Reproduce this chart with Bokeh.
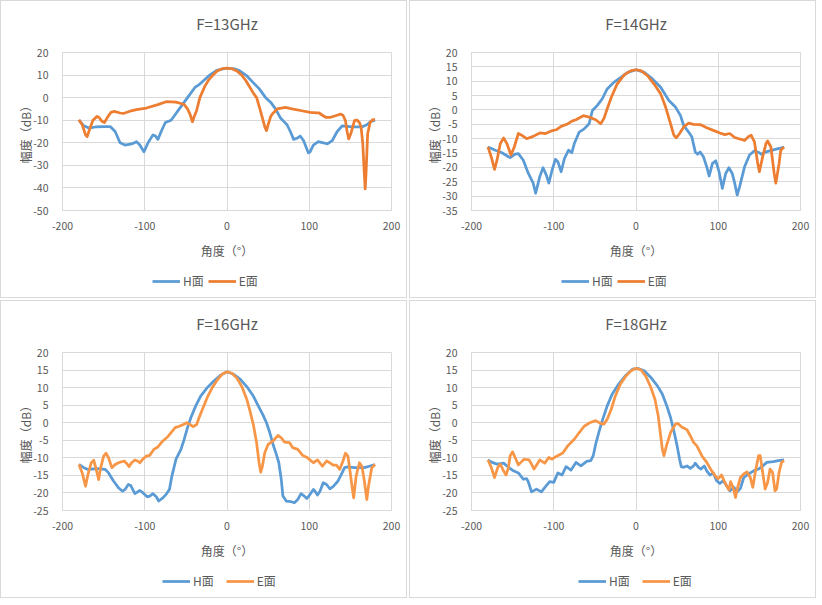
from bokeh.plotting import figure
from bokeh.layouts import column, row
from bokeh.models import Range1d, FixedTicker, Legend, LegendItem
from bokeh.core.properties import value
from bokeh.embed import file_html
from bokeh.resources import INLINE

# ---------------- data (angle in degrees, amplitude in dB) ----------------
titles = ["F=13GHz", "F=14GHz", "F=16GHz", "F=18GHz"]
series_names = ["H面", "E面"]
x_ticks = [-200, -100, 0, 100, 200]
y_ticks_13 = [20, 10, 0, -10, -20, -30, -40, -50]
y_ticks_14 = [20, 15, 10, 5, 0, -5, -10, -15, -20, -25, -30, -35]
y_ticks_16 = [20, 15, 10, 5, 0, -5, -10, -15, -20, -25]
y_ticks_18 = [20, 15, 10, 5, 0, -5, -10, -15, -20, -25]

h13 = [(-180,-10),(-174,-12.5),(-168,-13.5),(-160,-13),(-150,-12.8),(-142,-12.8),(-136,-15),
       (-130,-20),(-124,-21),(-116,-20.5),(-110,-19.5),(-106,-21),(-101,-24),(-96,-20),(-90,-16.5),
       (-87,-17),(-84,-18.5),(-80,-15),(-75,-11),(-68,-10),(-64,-8),(-58,-5),(-52,-2),(-46,1),
       (-39,4.5),(-33,6),(-27,8),(-21,10),(-13,12),(-3,13),(3,13),(9,12.8),(15,12),(23,10),(31,7),
       (39,4),(47,0),(53,-2),(59,-5),(65,-9),(69,-10.5),(73,-12),(77,-15),(81,-18.5),(85,-18),
       (89,-17),(93,-19),(99,-24.5),(101,-24),(105,-21),(111,-19.5),(117,-20),(122,-20.5),(128,-19),
       (134,-15),(140,-12.5),(146,-12.7),(152,-13),(158,-13),(164,-13),(170,-12),(175,-10.5),(180,-10)]
e13 = [(-180,-9.8),(-176,-12),(-172,-16.5),(-170,-17.3),(-167,-14),(-163,-10),(-158,-8.3),(-155,-9),
       (-152,-10.5),(-149,-11),(-145,-8.5),(-141,-6.5),(-137,-6.1),(-130,-6.8),(-126,-7),(-118,-6),
       (-110,-5.3),(-98,-4.6),(-84,-3.1),(-74,-1.8),(-62,-2),(-56,-2.6),(-52,-3.1),(-48,-5),(-45,-7.3),
       (-42,-10.7),(-40,-8.5),(-37,-5.8),(-33,0),(-27,5),(-22,8),(-17,10),(-12,11.8),(-6,12.8),(0,13.1),
       (6,12.8),(12,11.8),(18,10),(23,7.5),(28,4.5),(32,2),(36,0),(40,-5),(43,-9),(46,-13),(48,-14.6),
       (50,-12),(53,-8.5),(55,-7.3),(61,-5),(71,-4.3),(79,-5),(91,-5.8),(101,-6.5),(109,-6.8),(112,-6.8),
       (116,-7.8),(120,-8.7),(126,-8.7),(132,-8),(138,-7.3),(141,-7.8),(144,-10.2),(146,-15),(148,-18.3),
       (151,-15.4),(155,-10.2),(158,-9.9),(161,-11),(163,-13),(165,-20),(167,-34),(168,-40.4),(169,-34),
       (171,-16),(174,-11),(177,-9.8),(180,-9.6)]

h14 = [(-180,-12.9),(-171,-14),(-163,-14.9),(-155,-16.3),(-153,-16.6),(-147,-15.4),(-143,-15.2),
       (-137,-17.5),(-131,-22),(-125,-25.5),(-122,-29),(-117,-23.2),(-113,-20.1),(-109,-22.7),
       (-106,-25.5),(-102,-20.9),(-98,-17.2),(-95,-18),(-91,-21.5),(-87,-16.9),(-82,-14),(-78,-14.9),
       (-75,-11.7),(-69,-7.7),(-63,-6.6),(-57,-4.8),(-53,-0.2),(-47,1.6),(-41,3.9),(-35,7.3),(-27,9.6),
       (-18,11.4),(-10,13.1),(0,14),(10,13.1),(20,10.8),(30,7.9),(40,3.3),(48,1),(54,-1.9),(58,-5.4),
       (64,-7.7),(68,-9.4),(72,-14.6),(75,-15.4),(78,-14.6),(82,-16.3),(86,-19.8),(89,-23),(93,-18.6),
       (97,-17.7),(101,-21.5),(105,-27.3),(109,-22.1),(113,-20.1),(117,-22.1),(120,-25.5),(123,-29.6),
       (126,-26.7),(132,-19.8),(138,-15.7),(144,-14.2),(150,-14.9),(152,-15.4),(158,-14.6),(166,-14),
       (174,-13.4),(180,-12.9)]
e14 = [(-180,-12.9),(-176,-16.3),(-172,-20.7),(-169,-17.5),(-165,-11.7),(-161,-9.7),(-157,-11.7),
       (-152,-15.7),(-148,-12.9),(-143,-8.2),(-139,-8.8),(-133,-10),(-125,-9.2),(-117,-8),(-110,-8.2),
       (-103,-7.3),(-97,-6.9),(-91,-5.7),(-84,-5),(-78,-3.9),(-73,-3.4),(-64,-2),(-57,-2.5),(-49,-3.4),
       (-43,-4.8),(-39,-3),(-35,0.4),(-30,4.4),(-23,9),(-14,12.3),(-6,13.7),(0,14),(6,13.7),(14,11.9),
       (22,9),(30,5.6),(36,1),(42,-4.8),(46,-8.8),(49,-9.7),(53,-8.2),(58,-5.9),(64,-4.6),(70,-5),
       (78,-5.1),(86,-6.2),(94,-7.1),(102,-8),(108,-8.6),(114,-8.2),(120,-9.6),(126,-10.1),(132,-10.6),
       (137,-9.2),(140,-8.8),(144,-11.1),(148,-18.6),(150,-21.5),(154,-16.3),(158,-11.7),(160,-10.8),
       (164,-12.9),(168,-22.1),(170,-25.5),(174,-18.6),(176,-14),(180,-12.9)]

h16 = [(-180,-11.9),(-174,-12.8),(-169,-13.3),(-158,-13.1),(-148,-13.3),(-144,-14.3),(-138,-16.6),
       (-132,-18.5),(-127,-19.5),(-124,-19),(-120,-17.6),(-117,-17.9),(-112,-20.2),(-106,-19.3),
       (-102,-20),(-97,-21.1),(-94,-20.9),(-90,-20.2),(-86,-21.1),(-83,-22.3),(-78,-21.4),(-74,-20.4),
       (-70,-19),(-67,-15.2),(-62,-10.4),(-56,-7.6),(-52,-4.7),(-48,-1.4),(-44,1.4),(-38,4.8),(-32,7.6),
       (-24,10),(-16,11.9),(-8,13.5),(0,14.5),(8,13.8),(16,12.4),(24,10.3),(32,7.6),(38,4.8),(44,2.1),
       (48,0),(52,-2.8),(56,-6.2),(60,-9),(63,-11.4),(66,-16.2),(68,-20.9),(72,-22.3),(78,-22.5),
       (82,-22.8),(86,-21.9),(90,-20.2),(94,-20.9),(97,-21.6),(101,-20.4),(105,-19),(107,-19.5),
       (110,-20.6),(113,-19.5),(117,-17.1),(121,-17.6),(125,-18.8),(129,-18.2),(135,-16.6),(139,-14.7),
       (143,-12.8),(147,-12.6),(155,-12.8),(167,-12.8),(173,-12.4),(180,-11.9)]
e16 = [(-180,-11.9),(-176,-14.3),(-172,-18.1),(-169,-14.7),(-165,-11.4),(-162,-10.7),(-160,-12.4),
       (-156,-16.2),(-154,-13.3),(-150,-9.5),(-147,-8.7),(-144,-10),(-140,-12.8),(-136,-11.9),
       (-132,-11.4),(-125,-10.9),(-122,-11.6),(-119,-12.5),(-116,-11.4),(-112,-10.6),(-109,-10.9),
       (-106,-11.4),(-102,-10.3),(-98,-9.5),(-94,-9.3),(-89,-7.6),(-84,-6.9),(-78,-5.2),(-72,-4),
       (-68,-2.8),(-63,-1.4),(-58,-1),(-53,-0.5),(-49,0),(-45,-0.5),(-41,-1.1),(-37,-0.5),(-34,1.4),
       (-30,3.8),(-24,7.2),(-18,10),(-12,12.1),(-6,13.8),(0,14.5),(6,14.1),(12,12.7),(18,10.3),(24,6.7),
       (28,3.3),(32,-0.5),(36,-5.7),(39,-11.4),(41,-14.1),(43,-12.4),(46,-8.5),(50,-6.2),(56,-5.2),
       (62,-3.6),(66,-4.3),(70,-5.5),(76,-5.7),(80,-7.1),(86,-7.6),(92,-9.3),(98,-10),(105,-11.4),
       (110,-10.6),(116,-12.4),(121,-10.9),(125,-11.4),(129,-12.1),(133,-12.1),(137,-13.3),(141,-10.9),
       (144,-8.7),(147,-9.5),(149,-12.8),(152,-18.1),(154,-21.4),(157,-15.2),(161,-11.4),(164,-12.4),
       (167,-16.6),(170,-21.9),(172,-18.1),(176,-12.8),(180,-11.9)]

h18 = [(-180,-10.6),(-175,-11.3),(-169,-11.8),(-161,-11.5),(-155,-12.7),(-149,-13.7),(-143,-14.3),
       (-137,-16.1),(-133,-15.9),(-131,-16.8),(-127,-19.7),(-121,-18.9),(-115,-19.7),(-111,-18.5),
       (-105,-16.8),(-100,-17),(-95,-14.3),(-90,-14.9),(-85,-12.5),(-79,-13.5),(-73,-11.3),(-67,-12.3),
       (-60,-11),(-55,-10.8),(-52,-9.4),(-49,-6.1),(-45,-2.6),(-41,0.6),(-35,4.8),(-29,8.1),(-21,11),
       (-12,13.6),(-4,15.3),(2,15.5),(10,14.8),(18,12.9),(26,10.5),(32,8.2),(38,4.4),(42,1.5),(46,-2.3),
       (50,-6.6),(53,-10.4),(55,-12.5),(58,-12.7),(62,-12.3),(66,-13),(70,-12.3),(72,-11.5),(76,-12.7),
       (79,-13.2),(83,-12.3),(86,-13.7),(90,-14.9),(94,-14.3),(98,-16.5),(102,-17.3),(106,-16.5),
       (110,-17.9),(114,-19.4),(119,-18.4),(123,-19.7),(127,-18.7),(131,-15.6),(137,-14.6),(143,-13.7),
       (149,-13.2),(153,-12.5),(159,-11.3),(167,-11.1),(173,-10.8),(180,-10.6)]
e18 = [(-180,-10.6),(-176,-12.7),(-172,-15.6),(-168,-12.7),(-165,-11.8),(-161,-13.7),(-158,-14.9),
       (-155,-12.7),(-153,-9.4),(-150,-8.3),(-147,-9.9),(-143,-12),(-140,-11.3),(-136,-10.4),
       (-130,-10.6),(-127,-11.8),(-124,-13.2),(-121,-12.1),(-117,-10.6),(-111,-11.5),(-106,-9.9),
       (-102,-10.4),(-97,-9.6),(-89,-8.6),(-83,-6.6),(-75,-4.7),(-69,-2.8),(-63,-1),(-57,-0.1),(-49,0.6),
       (-44,-0.1),(-39,-0.4),(-35,1),(-30,3.9),(-25,7.7),(-19,11),(-12,13.4),(-6,14.8),(0,15.5),(6,15.1),
       (12,13.2),(18,10.1),(23,6.7),(27,2),(30,-3.7),(32,-7.5),(34,-9.4),(37,-6.6),(42,-2.8),(48,-0.4),
       (51,-0.2),(56,-1.3),(62,-2),(66,-3.7),(70,-5.6),(74,-6.6),(80,-9.4),(86,-11.3),(92,-13.7),
       (98,-15.6),(100,-15.9),(104,-14.9),(107,-16.5),(110,-17.9),(113,-19.1),(115,-16.8),(118,-18.4),
       (121,-21.3),(123,-18.9),(127,-15.6),(131,-14.6),(135,-14),(139,-15.6),(142,-18.4),(145,-14.1),
       (149,-9.4),(151,-9.4),(154,-14.1),(157,-18.9),(160,-17),(163,-13.2),(166,-14.1),(169,-19.4),
       (171,-18.9),(174,-14.1),(177,-11.3),(180,-10.8)]

panels = [
    (titles[0], h13, e13, y_ticks_13, "#ed7d31", 4, 90),
    (titles[1], h14, e14, y_ticks_14, "#ed7d31", 4, 90),
    (titles[2], h16, e16, y_ticks_16, "#f79646", 12, 100),
    (titles[3], h18, e18, y_ticks_18, "#f79646", 12, 107),
]

FONT = "Noto Sans CJK SC"
TXT = "#595959"
GRID = "#d9d9d9"
BLUE = "#5b9bd5"
W = 405


def header(title):
    p = figure(width=W, height=44, output_backend="svg", toolbar_location=None, title=None,
               x_range=Range1d(-200, 200), y_range=Range1d(0, 44),
               x_axis_location=None, y_axis_location=None,
               min_border_left=61, min_border_right=15, min_border_top=0, min_border_bottom=0,
               outline_line_color=None, border_fill_color="white")
    p.grid.grid_line_color = None
    p.text(x=[0], y=[22], text=[title], text_align="center", text_baseline="middle",
           text_font=value(FONT), text_font_size="15px", text_color=TXT)
    return p


def main_plot(h, e, yticks, orange):
    p = figure(width=W, height=217, output_backend="svg", toolbar_location=None, title=None,
               x_range=Range1d(-200, 200), y_range=Range1d(min(yticks), max(yticks)),
               min_border_left=61, min_border_right=15, min_border_top=7, min_border_bottom=52,
               background_fill_color="white", border_fill_color="white",
               outline_line_color=GRID)
    p.xaxis.ticker = FixedTicker(ticks=x_ticks)
    p.yaxis.ticker = FixedTicker(ticks=yticks)
    p.xaxis.major_label_overrides = {t: str(t) for t in x_ticks}
    p.yaxis.major_label_overrides = {t: str(t) for t in yticks}
    for ax in (p.xaxis[0], p.yaxis[0]):
        ax.major_tick_line_color = None
        ax.minor_tick_line_color = None
        ax.axis_line_color = GRID
        ax.major_label_text_font = FONT
        ax.major_label_text_font_size = "10.5px"
        ax.major_label_text_color = TXT
        ax.axis_label_text_font = FONT
        ax.axis_label_text_font_size = "12px"
        ax.axis_label_text_color = TXT
        ax.axis_label_text_font_style = "normal"
    p.xaxis.axis_label = "角度（°）"
    p.yaxis.axis_label = "幅度（dB）"
    p.xaxis.major_label_standoff = 5
    p.xaxis.axis_label_standoff = 9
    p.yaxis.major_label_standoff = 8
    p.yaxis.axis_label_standoff = -4

    p.xgrid.ticker = FixedTicker(ticks=x_ticks)
    p.ygrid.ticker = FixedTicker(ticks=yticks)
    p.xgrid.grid_line_color = GRID
    p.ygrid.grid_line_color = GRID

    p.line([a for a, _ in h], [v for _, v in h], line_color=BLUE, line_width=2.75,
           line_join="round")
    p.line([a for a, _ in e], [v for _, v in e], line_color=orange, line_width=2.75,
           line_join="round")
    return p


def legend_fig(h, e, orange, gap, left):
    # legend-only strip: same series, drawn out of view, only their legend entries show
    p = figure(width=W, height=35, output_backend="svg", toolbar_location=None, title=None,
               x_range=Range1d(1000, 1001), y_range=Range1d(1000, 1001),
               x_axis_location=None, y_axis_location=None,
               min_border_left=0, min_border_right=0, min_border_top=0, min_border_bottom=0,
               outline_line_color=None, border_fill_color="white")
    p.grid.grid_line_color = None
    rh = p.line([a for a, _ in h], [v for _, v in h], line_color=BLUE, line_width=2.75)
    re_ = p.line([a for a, _ in e], [v for _, v in e], line_color=orange, line_width=2.75)
    lg = Legend(items=[LegendItem(label=series_names[0], renderers=[rh]),
                       LegendItem(label=series_names[1], renderers=[re_])],
                orientation="horizontal", location=(left, 8),
                border_line_color=None, background_fill_alpha=0,
                label_text_font=FONT, label_text_font_size="12px", label_text_color=TXT,
                glyph_width=28, glyph_height=16, spacing=gap, padding=0, margin=0,
                label_standoff=3)
    p.add_layout(lg, "center")
    return p


def panel(title, h, e, yticks, orange, gap, left):
    return column(header(title), main_plot(h, e, yticks, orange),
                  legend_fig(h, e, orange, gap, left), spacing=0,
                  styles={"border": "1px solid #d9d9d9", "box-sizing": "border-box"})


cells = [panel(*pp) for pp in panels]
layout = column(row(cells[0], cells[1], spacing=2), row(cells[2], cells[3], spacing=2), spacing=2)

open("out.html", "w").write(file_html(layout, INLINE))
